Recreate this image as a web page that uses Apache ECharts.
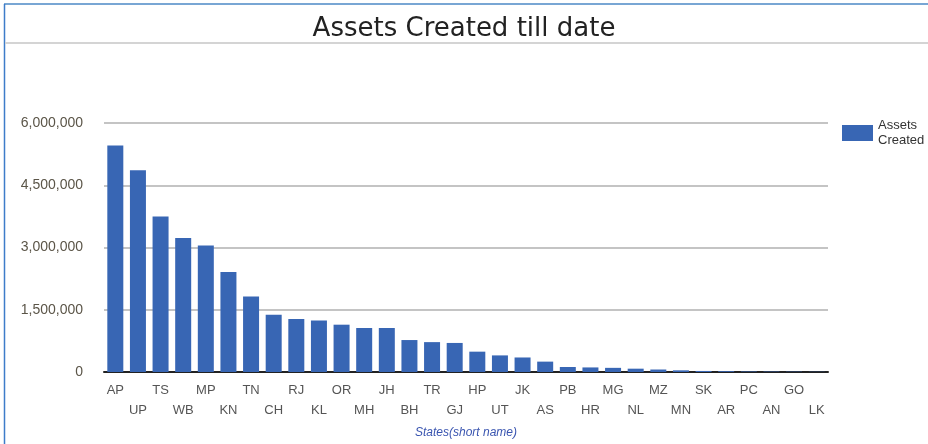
<!DOCTYPE html>
<html>
<head>
<meta charset="utf-8">
<script src="https://cdn.jsdelivr.net/npm/echarts@6/dist/echarts.min.js"></script>
<style>
  html, body { margin: 0; padding: 0; background: #fff; }
  #main { width: 928px; height: 444px; }
</style>
</head>
<body>
<div id="main"></div>
<script>
// states, sorted by assets created
var states = ['AP', 'UP', 'TS', 'WB', 'MP', 'KN', 'TN', 'CH', 'RJ', 'KL', 'OR', 'MH', 'JH', 'BH', 'TR', 'GJ',
              'HP', 'UT', 'JK', 'AS', 'PB', 'HR', 'MG', 'NL', 'MZ', 'MN', 'SK', 'AR', 'PC', 'AN', 'GO', 'LK'];
var assets = [5460000, 4860000, 3750000, 3230000, 3050000, 2410000, 1820000, 1380000, 1280000, 1240000,
              1140000, 1060000, 1060000, 770000, 720000, 700000, 490000, 400000, 350000, 250000,
              120000, 110000, 100000, 80000, 60000, 40000, 25000, 20000, 12000, 10000, 8000, 5000];
var yTicks = [0, 1500000, 3000000, 4500000, 6000000];

var myChart = echarts.init(document.getElementById('main'));

var option = {
    animation: false,
    backgroundColor: '#fff',
    title: {
        text: 'Assets Created till date',
        left: 'center',
        top: 11,
        textStyle: {
            fontFamily: 'DejaVu Sans',
            fontSize: 26,
            fontWeight: 'normal',
            color: '#222'
        }
    },
    legend: {
        left: 837,
        top: 113,
        orient: 'vertical',
        icon: 'rect',
        itemWidth: 31,
        itemHeight: 16,
        itemGap: 4,
        textStyle: { fontFamily: 'Liberation Sans', fontSize: 13, color: '#333', lineHeight: 15 },
        data: ['Assets\nCreated']
    },
    grid: {
        left: 104,
        right: 100,
        top: 123,
        bottom: 71,
        containLabel: false
    },
    xAxis: {
        type: 'category',
        data: states,
        name: 'States(short name)',
        nameLocation: 'middle',
        nameGap: 55,
        nameTextStyle: {
            fontFamily: 'Liberation Sans',
            fontStyle: 'italic',
            fontSize: 12,
            color: '#3a55b0'
        },
        axisLine: { lineStyle: { color: '#222', width: 2 } },
        axisTick: { show: false },
        axisLabel: {
            interval: 0,
            margin: 8,
            fontFamily: 'Liberation Sans',
            fontSize: 13,
            color: '#555',
            lineHeight: 20,
            formatter: function (v, i) { return i % 2 ? '\n' + v : v; }
        }
    },
    yAxis: {
        type: 'value',
        min: yTicks[0],
        max: yTicks[yTicks.length - 1],
        interval: yTicks[1] - yTicks[0],
        axisLine: { show: false },
        axisTick: { show: false },
        splitLine: { lineStyle: { color: '#c4c4c4', width: 2 } },
        axisLabel: {
            margin: 21,
            fontFamily: 'Liberation Sans',
            fontSize: 14,
            color: '#5b5548',
            formatter: function (v) { return v.toLocaleString('en-US'); }
        }
    },
    series: [{
        name: 'Assets\nCreated',
        type: 'bar',
        data: assets,
        barWidth: 16,
        itemStyle: { color: '#3866b4' }
    }],
    graphic: [
        { type: 'line', shape: { x1: 4, y1: 4, x2: 928, y2: 4 }, style: { stroke: '#78a6d4', lineWidth: 2 } },
        { type: 'line', shape: { x1: 4.5, y1: 4, x2: 4.5, y2: 444 }, style: { stroke: '#3d7cc9', lineWidth: 1.5 } },
        { type: 'line', shape: { x1: 5, y1: 43, x2: 928, y2: 43 }, style: { stroke: '#d4d4d4', lineWidth: 2 } }
    ]
};

myChart.setOption(option);
</script>
</body>
</html>
